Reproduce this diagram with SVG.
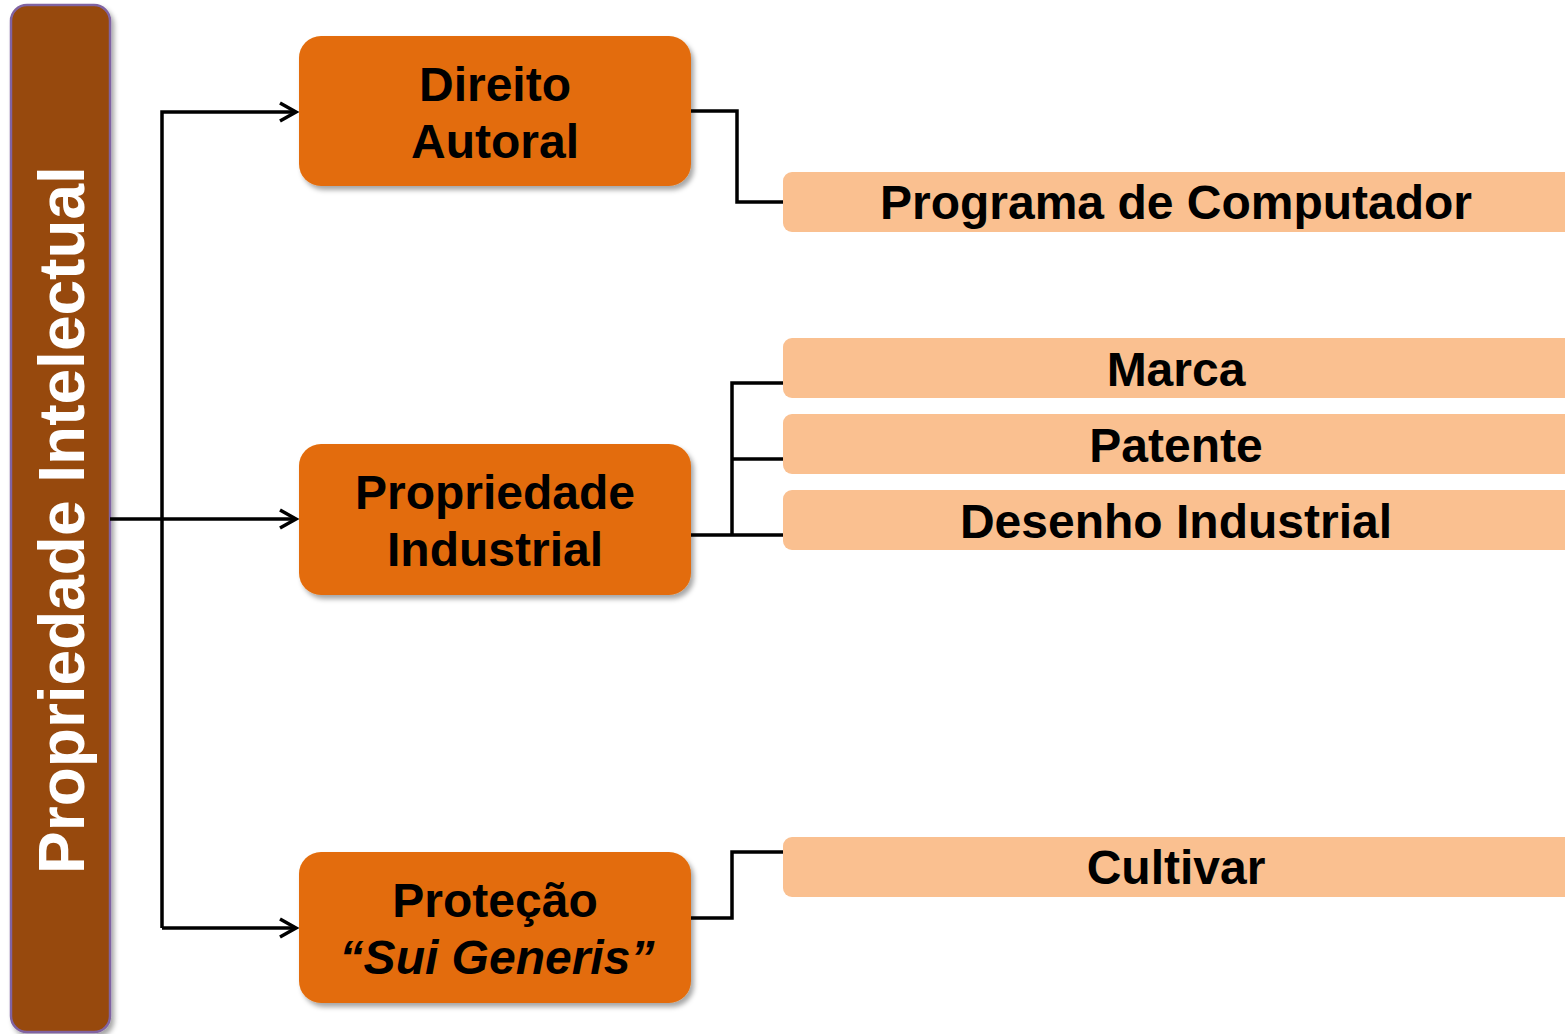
<svg xmlns="http://www.w3.org/2000/svg" width="1565" height="1034" viewBox="0 0 1565 1034">
<defs>
<filter id="sh" x="-10%" y="-10%" width="130%" height="130%">
<feDropShadow dx="3" dy="4" stdDeviation="2.5" flood-color="#000" flood-opacity="0.35"/>
</filter>
<marker id="arr" markerWidth="22" markerHeight="24" refX="18" refY="12" orient="auto" markerUnits="userSpaceOnUse">
<path d="M2,3 L18,12 L2,21" fill="none" stroke="#000" stroke-width="3.5"/>
</marker>
<style>
.t{font-family:"Liberation Sans",Arial,sans-serif;font-weight:bold;fill:#000;text-anchor:middle}
.main{fill:#E36C09}
.sub{fill:#FAC090}
.c{fill:none;stroke:#000;stroke-width:3.5}
</style>
</defs>
<rect width="1565" height="1034" fill="#fff"/>
<g id="root">
<rect x="11" y="5" width="99" height="1027" rx="16" fill="#974807" stroke="#8064A2" stroke-width="2.5" filter="url(#sh)"/>
<text class="t" transform="translate(84,520) rotate(-90)" font-size="64" style="fill:#fff">Propriedade Intelectual</text>
</g>
<g id="connectors">
<path class="c" d="M162,928 V112 H296" marker-end="url(#arr)"/>
<path class="c" d="M110,519 H296" marker-end="url(#arr)"/>
<path class="c" d="M162,928 H296" marker-end="url(#arr)"/>
<path class="c" d="M691,111 H737 V202 H783"/>
<path class="c" d="M681,535 H732 V383 H783 M732,459 H783 M732,535 H783"/>
<path class="c" d="M681,918 H732 V852 H783"/>
</g>
<g id="n-direito">
<rect class="main" x="299" y="36" width="392" height="150" rx="22" filter="url(#sh)"/>
<text class="t" x="495" y="101" font-size="48">Direito</text>
<text class="t" x="495" y="158" font-size="48">Autoral</text>
</g>
<g id="n-industrial">
<rect class="main" x="299" y="444" width="392" height="151" rx="22" filter="url(#sh)"/>
<text class="t" x="495" y="509" font-size="48">Propriedade</text>
<text class="t" x="495" y="566" font-size="48">Industrial</text>
</g>
<g id="n-suigeneris">
<rect class="main" x="299" y="852" width="392" height="151" rx="22" filter="url(#sh)"/>
<text class="t" x="495" y="917" font-size="48">Proteção</text>
<text class="t" x="497" y="974" font-size="48" font-style="italic">“Sui Generis”</text>
</g>
<g id="n-programa">
<rect class="sub" x="783" y="172" width="800" height="60" rx="9"/>
<text class="t" x="1176" y="219" font-size="48">Programa de Computador</text>
</g>
<g id="n-marca">
<rect class="sub" x="783" y="338" width="800" height="60" rx="9"/>
<text class="t" x="1176" y="386" font-size="48">Marca</text>
</g>
<g id="n-patente">
<rect class="sub" x="783" y="414" width="800" height="60" rx="9"/>
<text class="t" x="1176" y="462" font-size="48">Patente</text>
</g>
<g id="n-desenho">
<rect class="sub" x="783" y="490" width="800" height="60" rx="9"/>
<text class="t" x="1176" y="538" font-size="48">Desenho Industrial</text>
</g>
<g id="n-cultivar">
<rect class="sub" x="783" y="837" width="800" height="60" rx="9"/>
<text class="t" x="1176" y="884" font-size="48">Cultivar</text>
</g>
</svg>
